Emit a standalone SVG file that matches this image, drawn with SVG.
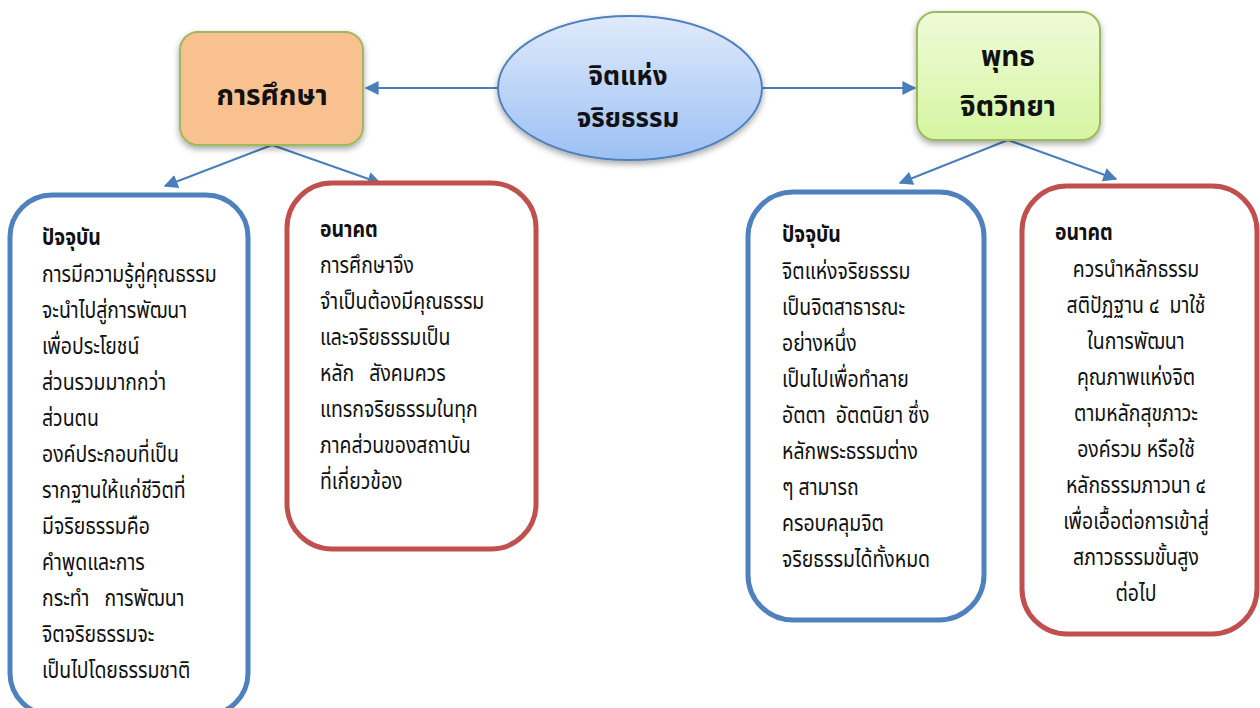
<svg xmlns="http://www.w3.org/2000/svg" width="1260" height="708" viewBox="0 0 1260 708">
<defs>
<style>
.t{font-family:"Noto Sans Thai","Noto Sans","DejaVu Sans",sans-serif;font-size:23px;fill:#111;white-space:pre}
.h{font-weight:bold}
.big{font-family:"Noto Sans Thai","Noto Sans","DejaVu Sans",sans-serif;font-size:28px;font-weight:bold;fill:#111;text-anchor:middle}
.mid{font-size:26px}
.blue{fill:#fff;stroke:#4F81BD;stroke-width:5}
.red{fill:#fff;stroke:#C0504D;stroke-width:5}
.c{fill:none;stroke:#4A7EBB;stroke-width:2}
</style>
<linearGradient id="gE" x1="0" y1="0" x2="0" y2="1"><stop offset="0" stop-color="#E0EAFB"/><stop offset="1" stop-color="#9CC0F4"/></linearGradient>
<linearGradient id="gG" x1="0" y1="0" x2="0" y2="1"><stop offset="0" stop-color="#EFFBD8"/><stop offset="1" stop-color="#D5F5A2"/></linearGradient>
<filter id="sh" x="-20%" y="-20%" width="140%" height="150%"><feDropShadow dx="0" dy="3" stdDeviation="3" flood-color="#000" flood-opacity="0.35"/></filter>
<marker id="ar" viewBox="0 0 10 10" refX="9" refY="5" markerWidth="7" markerHeight="7" orient="auto" markerUnits="strokeWidth"><path d="M0,0 L10,5 L0,10 z" fill="#4A7EBB"/></marker>
</defs>
<g id="connectors">
<line class="c" x1="498" y1="88" x2="366" y2="88" marker-end="url(#ar)"/>
<line class="c" x1="762" y1="88" x2="915" y2="88" marker-end="url(#ar)"/>
<line class="c" x1="272" y1="145" x2="165" y2="186" marker-end="url(#ar)"/>
<line class="c" x1="272" y1="145" x2="380" y2="183" marker-end="url(#ar)"/>
<line class="c" x1="1008" y1="140" x2="900" y2="183" marker-end="url(#ar)"/>
<line class="c" x1="1008" y1="140" x2="1116" y2="179" marker-end="url(#ar)"/>
</g>
<g id="center">
<ellipse cx="630" cy="88" rx="132" ry="72" fill="url(#gE)" stroke="#4F81BD" stroke-width="2" filter="url(#sh)"/>
<text class="big mid" x="628" y="85">จิตแห่ง</text>
<text class="big mid" x="628" y="127">จริยธรรม</text>
</g>
<g id="education">
<rect x="180" y="32" width="183" height="113" rx="18" fill="#F9C090" stroke="#9BBB59" stroke-width="2" filter="url(#sh)"/>
<text class="big" x="272" y="105">การศึกษา</text>
</g>
<g id="psychology">
<rect x="917" y="12" width="183" height="128" rx="18" fill="url(#gG)" stroke="#9BBB59" stroke-width="2" filter="url(#sh)"/>
<text class="big" x="1008" y="66">พุทธ</text>
<text class="big" x="1008" y="116">จิตวิทยา</text>
</g>
<g id="edu-present">
<rect class="blue" x="10" y="195" width="238" height="520" rx="42"/>
<g transform="translate(42,0) scale(0.845,1)">
<text class="t" x="0"><tspan class="h" y="245">ปัจจุบัน</tspan><tspan x="0" y="282">การมีความรู้คู่คุณธรรม</tspan><tspan x="0" y="318">จะนำไปสู่การพัฒนา</tspan><tspan x="0" y="354">เพื่อประโยชน์</tspan><tspan x="0" y="390">ส่วนรวมมากกว่า</tspan><tspan x="0" y="426">ส่วนตน</tspan><tspan x="0" y="462">องค์ประกอบที่เป็น</tspan><tspan x="0" y="498">รากฐานให้แก่ชีวิตที่</tspan><tspan x="0" y="534">มีจริยธรรมคือ</tspan><tspan x="0" y="570">คำพูดและการ</tspan><tspan x="0" y="606">กระทำ   การพัฒนา</tspan><tspan x="0" y="642">จิตจริยธรรมจะ</tspan><tspan x="0" y="678">เป็นไปโดยธรรมชาติ</tspan></text>
</g>
</g>
<g id="edu-future">
<rect class="red" x="287" y="183" width="249" height="366" rx="45"/>
<g transform="translate(320,0) scale(0.845,1)">
<text class="t" x="0"><tspan class="h" y="237">อนาคต</tspan><tspan x="0" y="273">การศึกษาจึง</tspan><tspan x="0" y="309">จำเป็นต้องมีคุณธรรม</tspan><tspan x="0" y="345">และจริยธรรมเป็น</tspan><tspan x="0" y="381">หลัก   สังคมควร</tspan><tspan x="0" y="417">แทรกจริยธรรมในทุก</tspan><tspan x="0" y="453">ภาคส่วนของสถาบัน</tspan><tspan x="0" y="489">ที่เกี่ยวข้อง</tspan></text>
</g>
</g>
<g id="psy-present">
<rect class="blue" x="748" y="192" width="236" height="428" rx="45"/>
<g transform="translate(782,0) scale(0.845,1)">
<text class="t" x="0"><tspan class="h" y="242">ปัจจุบัน</tspan><tspan x="0" y="279">จิตแห่งจริยธรรม</tspan><tspan x="0" y="315">เป็นจิตสาธารณะ</tspan><tspan x="0" y="351">อย่างหนึ่ง</tspan><tspan x="0" y="387">เป็นไปเพื่อทำลาย</tspan><tspan x="0" y="423">อัตตา  อัตตนิยา ซึ่ง</tspan><tspan x="0" y="459">หลักพระธรรมต่าง</tspan><tspan x="0" y="495">ๆ สามารถ</tspan><tspan x="0" y="531">ครอบคลุมจิต</tspan><tspan x="0" y="567">จริยธรรมได้ทั้งหมด</tspan></text>
</g>
</g>
<g id="psy-future">
<rect class="red" x="1022" y="186" width="235" height="448" rx="45"/>
<g transform="translate(1055,0) scale(0.845,1)">
<text class="t h" x="0" y="240">อนาคต</text>
</g>
<g transform="translate(1136,0) scale(0.845,1)">
<text class="t" text-anchor="middle"><tspan x="0" y="277">ควรนำหลักธรรม</tspan><tspan x="0" y="313">สติปัฏฐาน ๔  มาใช้</tspan><tspan x="0" y="349">ในการพัฒนา</tspan><tspan x="0" y="385">คุณภาพแห่งจิต</tspan><tspan x="0" y="421">ตามหลักสุขภาวะ</tspan><tspan x="0" y="457">องค์รวม หรือใช้</tspan><tspan x="0" y="493">หลักธรรมภาวนา ๔</tspan><tspan x="0" y="529">เพื่อเอื้อต่อการเข้าสู่</tspan><tspan x="0" y="565">สภาวธรรมขั้นสูง</tspan><tspan x="0" y="601">ต่อไป</tspan></text>
</g>
</g>
</svg>
